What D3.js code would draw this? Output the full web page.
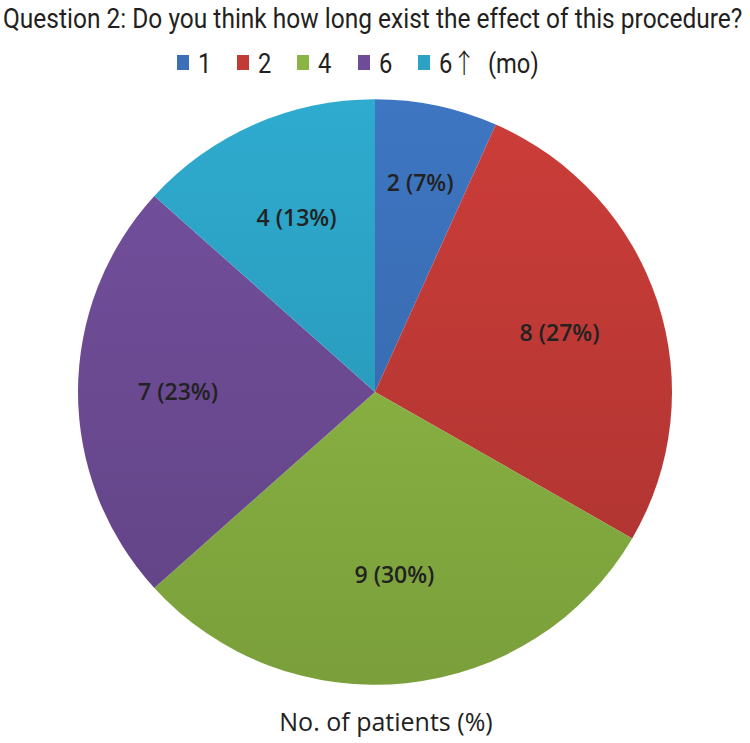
<!DOCTYPE html>
<html>
<head>
<meta charset="utf-8">
<script src="https://cdn.jsdelivr.net/npm/d3@7"></script>
<style>
body { margin: 0; background: #fff; }
svg { display: block; }
</style>
</head>
<body>
<svg id="chart" width="750" height="743"></svg>
<script>
const categories = ["1", "2", "4", "6", "6\u2191  (mo)"];
const values = [2, 8, 9, 7, 4];
const percents = ["7%", "27%", "30%", "23%", "13%"];
const colors = ["#3b70b8", "#c13a36", "#8ab443", "#6e4c96", "#2ca2c4"];
const title = "Question 2: Do you think how long exist the effect of this procedure?";
const xTitle = "No. of patients (%)";

const svg = d3.select("#chart");
const cx = 375, cy = 392, R = 297;
const narrow = "Roboto, 'Liberation Sans', sans-serif";
const humanist = "'Open Sans', 'Noto Sans', sans-serif";

// title (scaled horizontally to condensed look)
const t = svg.append("text")
  .attr("x", 0).attr("y", 0)
  .style("font-family", narrow).style("font-size", "27px").style("font-weight", 400)
  .style("fill", "#231f20")
  .text(title);
const tw = t.node().getComputedTextLength();
t.attr("transform", `translate(3,28) scale(${740 / tw},1)`);

// legend
const legendX = [177, 237, 297, 358, 418];
const lg = svg.append("g");
categories.forEach((c, i) => {
  const g = lg.append("g").attr("transform", `translate(${legendX[i]},0)`);
  g.append("rect").attr("x", 0).attr("y", 55).attr("width", 12).attr("height", 15).attr("fill", colors[i]);
  const txt = g.append("text").attr("transform", "translate(21,73) scale(0.88,1)")
    .style("font-family", narrow).style("font-size", "27px").style("font-weight", 400)
    .style("white-space", "pre").style("fill", "#231f20");
  c.split(/(\u2191)/).filter(s => s.length).forEach(part => {
    const ts = txt.append("tspan").text(part);
    if (part === "\u2191") ts.style("font-family", "'Noto Sans CJK SC', sans-serif").style("font-weight", 300);
  });
});

// gradients
const defs = svg.append("defs");
colors.forEach((c, i) => {
  const gr = defs.append("linearGradient").attr("id", "g" + i)
    .attr("gradientUnits", "userSpaceOnUse")
    .attr("x1", 0).attr("y1", -R).attr("x2", 0).attr("y2", R);
  gr.append("stop").attr("offset", "0%").attr("stop-color", d3.color(c).brighter(0.15));
  gr.append("stop").attr("offset", "100%").attr("stop-color", d3.color(c).darker(0.35));
});

const pie = d3.pie().sort(null).value(d => d)(values);
const arc = d3.arc().innerRadius(0).outerRadius(R);
const labelR = [217, 194, 186, 197, 193];

const pg = svg.append("g").attr("transform", `translate(${cx},${cy}) scale(1,0.986)`);
pg.selectAll("path").data(pie).join("path")
  .attr("d", arc)
  .attr("fill", (d, i) => `url(#g${i})`);

pg.selectAll("text").data(pie).join("text")
  .attr("transform", (d, i) => {
    const p = d3.arc().innerRadius(labelR[i]).outerRadius(labelR[i]).centroid(d);
    return `translate(${p[0]},${p[1]}) scale(1,${1/0.986})`;
  })
  .attr("text-anchor", "middle").attr("dy", "0.36em")
  .style("font-family", humanist).style("font-size", "23px").style("font-weight", 600)
  .style("fill", "#222")
  .text((d, i) => `${values[i]} (${percents[i]})`);

svg.append("text")
  .attr("x", 386).attr("y", 731).attr("text-anchor", "middle")
  .style("font-family", humanist).style("font-size", "25px").style("font-weight", 500)
  .style("fill", "#222")
  .text(xTitle);
</script>
</body>
</html>
